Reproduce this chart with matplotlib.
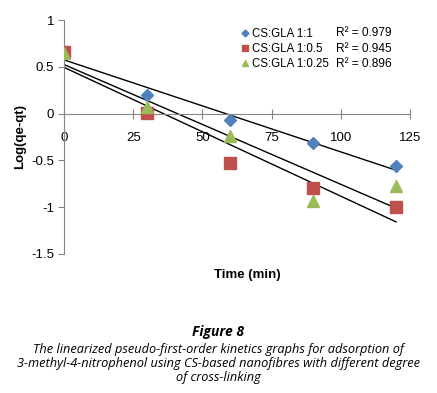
import numpy as np
import matplotlib
matplotlib.use("Agg")
import matplotlib.pyplot as plt

# reading of the reference figure
time_min = [0, 30, 60, 90, 120]
labels = ["CS:GLA 1:1", "CS:GLA 1:0.5", "CS:GLA 1:0.25"]
log_1_1 = [0.66, 0.20, -0.07, -0.31, -0.56]
log_1_05 = [0.66, 0.01, -0.53, -0.80, -1.00]
log_1_025 = [0.65, 0.07, -0.24, -0.93, -0.77]
r2_values = ["0.979", "0.945", "0.896"]

colors = ["#4F81BD", "#C0504D", "#9BBB59"]
markers = ["D", "s", "^"]
msizes = [6.5, 8, 9]
legend_msizes = [3.5, 4.2, 4.5]

plt.rcParams["font.family"] = ["Liberation Sans", "DejaVu Sans"]

fig = plt.figure(figsize=(4.37, 3.93), dpi=100)
ax = fig.add_axes([0.1465, 0.354, 0.7915, 0.595])

series = [log_1_1, log_1_05, log_1_025]
x = np.array(time_min, dtype=float)
# trendlines (drawn first, under the points)
for ys in series:
    k, b = np.polyfit(x, ys, 1)
    ax.plot([x[0], x[-1]], [k * x[0] + b, k * x[-1] + b], color="black", lw=1.0, zorder=2)

handles = []
for ys, c, m, ms, lms, lab in zip(series, colors, markers, msizes, legend_msizes, labels):
    ax.plot(x, ys, ls="none", marker=m, color=c, ms=ms, mec=c, zorder=3)
    h, = ax.plot([], [], ls="none", marker=m, color=c, ms=lms, mec=c, label=lab)
    handles.append(h)

ax.set_xlim(0, 125)
ax.set_ylim(-1.5, 1)
ax.set_xticks([0, 25, 50, 75, 100, 125])
ax.set_yticks([-1.5, -1, -0.5, 0, 0.5, 1])
ax.set_yticklabels(["-1.5", "-1", "-0.5", "0", "0.5", "1"])

for s in ["top", "right"]:
    ax.spines[s].set_visible(False)
ax.spines["bottom"].set_position(("data", 0))
for s in ["left", "bottom"]:
    ax.spines[s].set_color("#868686")
    ax.spines[s].set_linewidth(0.8)
ax.tick_params(axis="x", direction="inout", length=7, color="#868686", pad=10, labelsize=9.5)
ax.tick_params(axis="y", direction="out", length=4, color="#868686", pad=3, labelsize=9.5)

ax.set_ylabel("Log(qe-qt)", fontsize=9.5, fontweight="bold", labelpad=4)
fig.text(0.567, 0.30, "Time (min)", fontsize=9.5, fontweight="bold", ha="center", va="center")

leg = ax.legend(handles=handles, loc="upper left", bbox_to_anchor=(0.49, 1.0),
                frameon=False, fontsize=8.3, handlelength=0.6, handletextpad=0.3,
                labelspacing=0.25, borderpad=0.2)

for i, r in enumerate(r2_values):
    fig.text(0.77, 0.915 - i * 0.0385, "R² = " + r, fontsize=8.6, ha="left", va="center")

cap_family = ["Open Sans", "DejaVu Sans"]
fig.text(0.5, 0.155, "Figure 8", fontsize=10, fontweight="bold", style="italic",
         ha="center", va="center", family=cap_family)
caption = ("The linearized pseudo-first-order kinetics graphs for adsorption of\n"
           "3-methyl-4-nitrophenol using CS-based nanofibres with different degree\n"
           "of cross-linking")
fig.text(0.5, 0.0763, caption, fontsize=9.2, style="italic", ha="center", va="center",
         family=cap_family, linespacing=1.1)

fig.savefig("out.png", dpi=100)
